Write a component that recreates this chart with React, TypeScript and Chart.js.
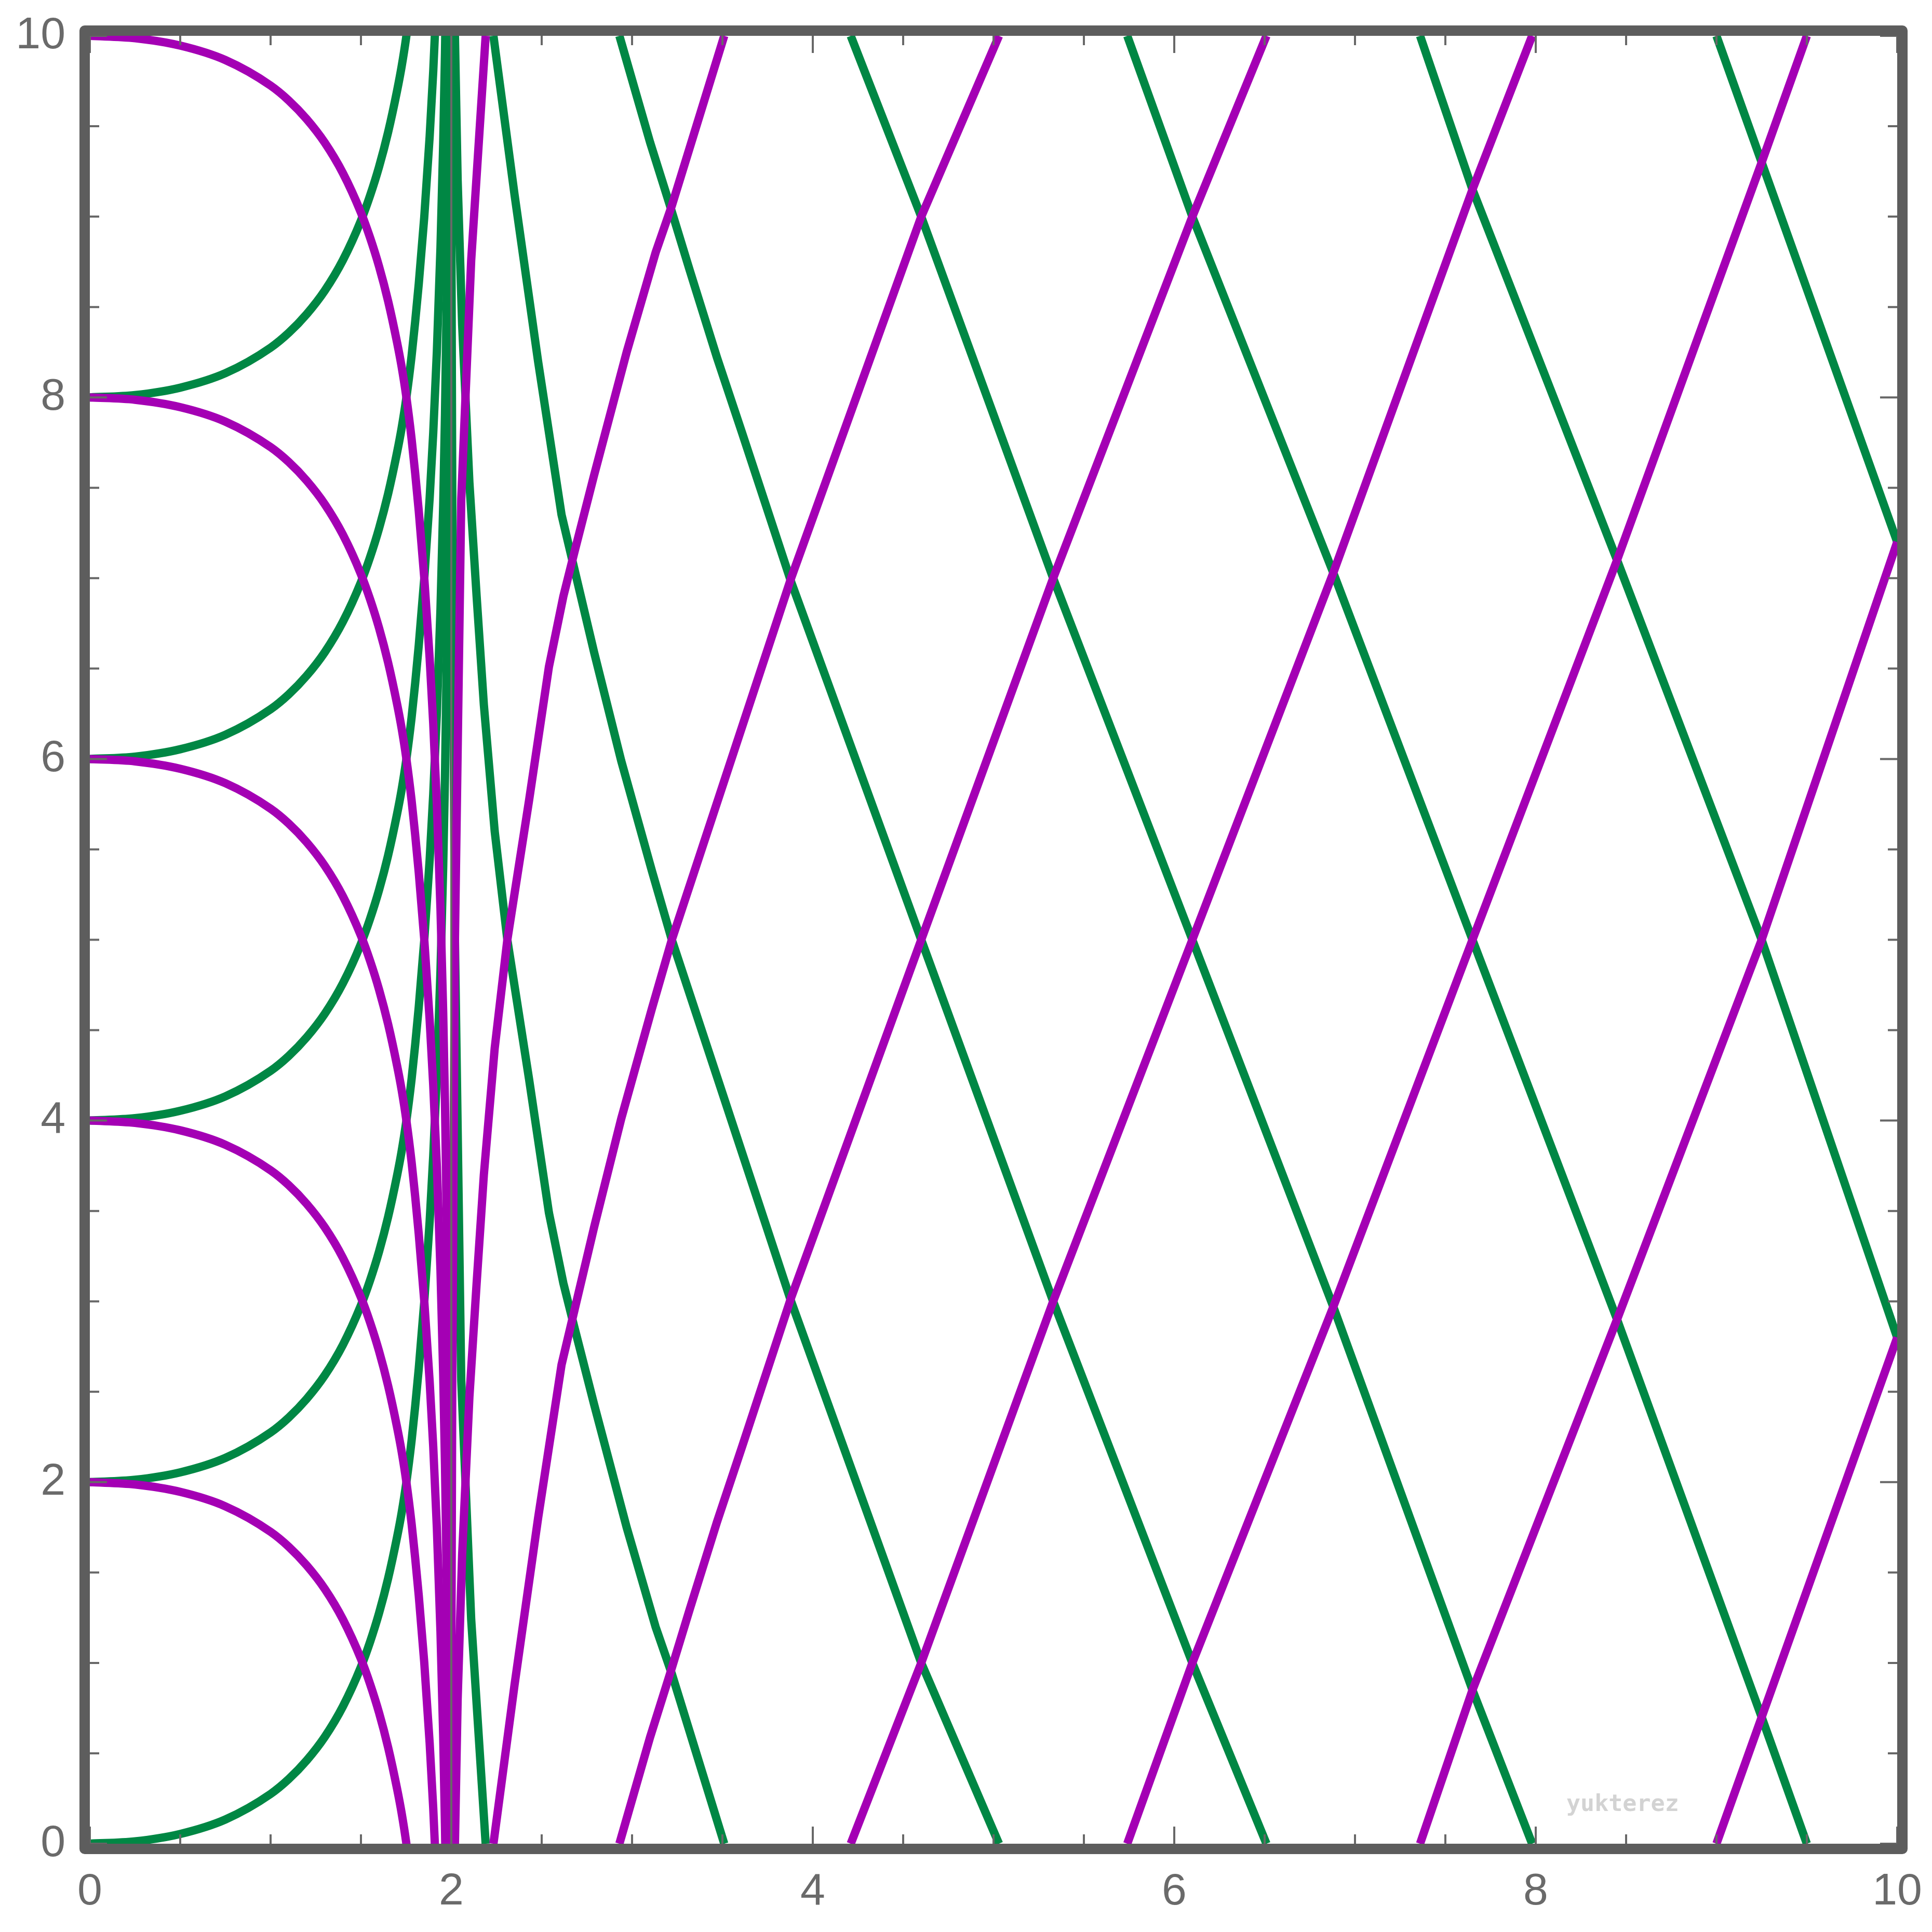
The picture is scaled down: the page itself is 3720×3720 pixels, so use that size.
import React, { useEffect, useRef } from 'react';
import { Chart, registerables } from 'chart.js';

Chart.register(...registerables);

// ---- data ----
// shared x positions for the curves that start on the left edge
const leftX = [0, 0.25, 0.5, 0.75, 1.0, 1.1, 1.2, 1.3, 1.4, 1.5, 1.55, 1.6, 1.65, 1.7, 1.725, 1.75, 1.78, 1.8, 1.82, 1.85, 1.88, 1.9, 1.92, 1.94, 1.955, 1.965, 1.975, 1.983, 1.989, 1.994, 1.997];

// green curves rising from y = 0, 2, 4, 6, 8
const greenFrom0 = [0, 0.013, 0.054, 0.134, 0.275, 0.357, 0.461, 0.591, 0.759, 0.978, 1.115, 1.275, 1.466, 1.697, 1.83, 1.99, 2.228, 2.419, 2.63, 2.994, 3.441, 3.805, 4.252, 4.827, 5.401, 5.904, 6.578, 7.349, 8.22, 9.432, 10.82];
const greenFrom2 = [2, 2.013, 2.054, 2.134, 2.275, 2.357, 2.461, 2.591, 2.759, 2.978, 3.115, 3.275, 3.466, 3.697, 3.83, 3.99, 4.228, 4.419, 4.63, 4.994, 5.441, 5.805, 6.252, 6.827, 7.401, 7.904, 8.578, 9.349, 10.22];
const greenFrom4 = [4, 4.013, 4.054, 4.134, 4.275, 4.357, 4.461, 4.591, 4.759, 4.978, 5.115, 5.275, 5.466, 5.697, 5.83, 5.99, 6.228, 6.419, 6.63, 6.994, 7.441, 7.805, 8.252, 8.827, 9.401, 9.904, 10.578];
const greenFrom6 = [6, 6.013, 6.054, 6.134, 6.275, 6.357, 6.461, 6.591, 6.759, 6.978, 7.115, 7.275, 7.466, 7.697, 7.83, 7.99, 8.228, 8.419, 8.63, 8.994, 9.441, 9.805, 10.252];
const greenFrom8 = [8, 8.013, 8.054, 8.134, 8.275, 8.357, 8.461, 8.591, 8.759, 8.978, 9.115, 9.275, 9.466, 9.697, 9.83, 9.99, 10.228];

// magenta curves falling from y = 10, 8, 6, 4, 2
const magentaFrom10 = [10, 9.987, 9.946, 9.866, 9.725, 9.643, 9.539, 9.409, 9.241, 9.022, 8.885, 8.725, 8.534, 8.303, 8.17, 8.01, 7.772, 7.581, 7.37, 7.006, 6.559, 6.195, 5.748, 5.173, 4.599, 4.096, 3.422, 2.651, 1.78, 0.568, -0.82];
const magentaFrom8 = [8, 7.987, 7.946, 7.866, 7.725, 7.643, 7.539, 7.409, 7.241, 7.022, 6.885, 6.725, 6.534, 6.303, 6.17, 6.01, 5.772, 5.581, 5.37, 5.006, 4.559, 4.195, 3.748, 3.173, 2.599, 2.096, 1.422, 0.651, -0.22];
const magentaFrom6 = [6, 5.987, 5.946, 5.866, 5.725, 5.643, 5.539, 5.409, 5.241, 5.022, 4.885, 4.725, 4.534, 4.303, 4.17, 4.01, 3.772, 3.581, 3.37, 3.006, 2.559, 2.195, 1.748, 1.173, 0.599, 0.096, -0.578];
const magentaFrom4 = [4, 3.987, 3.946, 3.866, 3.725, 3.643, 3.539, 3.409, 3.241, 3.022, 2.885, 2.725, 2.534, 2.303, 2.17, 2.01, 1.772, 1.581, 1.37, 1.006, 0.559, 0.195, -0.252];
const magentaFrom2 = [2, 1.987, 1.946, 1.866, 1.725, 1.643, 1.539, 1.409, 1.241, 1.022, 0.885, 0.725, 0.534, 0.303, 0.17, 0.01, -0.228];

// green lines falling right of x = 2 ([x, y] pairs)
const greenOutA = [[1.997, 10], [2.005, 7.5], [2.02, 5.0], [2.055, 2.56], [2.11, 1.24], [2.19, 0]];
const greenOutB = [[2.02, 10], [2.035, 9.2], [2.06, 8.4], [2.10, 7.53], [2.14, 6.9], [2.18, 6.3], [2.24, 5.6], [2.31, 5.0], [2.43, 4.23], [2.54, 3.49], [2.62, 3.1], [2.68, 2.86], [2.79, 2.43], [2.97, 1.75], [3.13, 1.2], [3.22, 0.94], [3.51, 0]];
const greenOut0 = [[2.233, 10], [2.35, 9.12], [2.48, 8.2], [2.61, 7.35], [2.79, 6.59], [2.94, 5.99], [3.11, 5.38], [3.22, 5.0], [3.88, 3.0], [4.6, 1.0], [5.03, 0]];
const greenOut1 = [[2.93, 10], [3.10, 9.41], [3.21, 9.06], [3.32, 8.70], [3.47, 8.22], [3.61, 7.80], [3.88, 6.98], [4.6, 5.0], [5.33, 3.0], [6.1, 1.0], [6.51, 0]];
const greenOut2 = [[4.21, 10], [4.6, 9.0], [5.33, 7.0], [6.1, 5.0], [6.88, 2.97], [7.65, 0.85], [7.98, 0]];
const greenOut3 = [[5.74, 10], [6.1, 9.0], [6.88, 7.03], [7.65, 5.0], [8.45, 2.9], [9.25, 0.7], [9.5, 0]];
const greenOut4 = [[7.36, 10], [7.65, 9.15], [8.45, 7.1], [9.25, 5.0], [10, 2.8]];
const greenOut5 = [[9.0, 10], [9.25, 9.3], [10, 7.2]];

// magenta lines rising right of x = 2
const magentaOutA = [[1.997, 0], [2.005, 2.5], [2.02, 5.0], [2.055, 7.44], [2.11, 8.76], [2.19, 10]];
const magentaOutB = [[2.02, 0], [2.035, 0.8], [2.06, 1.6], [2.10, 2.47], [2.14, 3.1], [2.18, 3.7], [2.24, 4.4], [2.31, 5.0], [2.43, 5.77], [2.54, 6.51], [2.62, 6.9], [2.68, 7.14], [2.79, 7.57], [2.97, 8.25], [3.13, 8.8], [3.22, 9.06], [3.51, 10]];
const magentaOut0 = [[2.233, 0], [2.35, 0.88], [2.48, 1.8], [2.61, 2.65], [2.79, 3.41], [2.94, 4.01], [3.11, 4.62], [3.22, 5.0], [3.88, 7.0], [4.6, 9.0], [5.03, 10]];
const magentaOut1 = [[2.93, 0], [3.10, 0.59], [3.21, 0.94], [3.32, 1.30], [3.47, 1.78], [3.61, 2.20], [3.88, 3.02], [4.6, 5.0], [5.33, 7.0], [6.1, 9.0], [6.51, 10]];
const magentaOut2 = [[4.21, 0], [4.6, 1.0], [5.33, 3.0], [6.1, 5.0], [6.88, 7.03], [7.65, 9.15], [7.98, 10]];
const magentaOut3 = [[5.74, 0], [6.1, 1.0], [6.88, 2.97], [7.65, 5.0], [8.45, 7.1], [9.25, 9.3], [9.5, 10]];
const magentaOut4 = [[7.36, 0], [7.65, 0.85], [8.45, 2.9], [9.25, 5.0], [10, 7.2]];
const magentaOut5 = [[9.0, 0], [9.25, 0.7], [10, 2.8]];

// thin vertical reference line
const horizonX = 2;

// axes
const axisMin = 0;
const axisMax = 10;
const labelStep = 2;
const tickValues = [0, 0.5, 1, 1.5, 2, 2.5, 3, 3.5, 4, 4.5, 5, 5.5, 6, 6.5, 7, 7.5, 8, 8.5, 9, 9.5, 10];
const majorTicks = [0, 2, 4, 6, 8, 10];
const watermarkText = 'yukterez';

// ---- styling ----
const GREEN = '#008744';
const MAGENTA = '#a400b4';
const FRAME = '#5d5d5d';
const TICK = '#686868';
const LABEL = '#6a6a6a';
const LINE_W = 16;

const fromLeft = (ys: number[]) => ys.map((y, i) => ({ x: leftX[i], y }));
const fromPairs = (p: number[][]) => p.map(([x, y]) => ({ x, y }));

function lineDs(data: { x: number; y: number }[], color: string, order: number, smooth: boolean) {
  const ds: any = {
    data,
    showLine: true,
    borderColor: color,
    backgroundColor: color,
    borderWidth: LINE_W,
    pointRadius: 0,
    pointHoverRadius: 0,
    tension: 0,
    fill: false,
    borderCapStyle: 'butt',
    borderJoinStyle: 'round',
    order,
  };
  if (smooth) ds.cubicInterpolationMode = 'monotone';
  return ds;
}

const framePlugin = {
  id: 'frameTicks',
  afterDatasetsDraw(chart: any) {
    const { ctx, chartArea } = chart;
    const { left, top, right, bottom } = chartArea;
    const xs = chart.scales.x;
    const ys = chart.scales.y;
    ctx.save();
    ctx.strokeStyle = TICK;
    ctx.lineWidth = 4;
    ctx.lineCap = 'butt';
    for (const v of tickValues) {
      const len = majorTicks.includes(v) ? 33 : 18;
      const px = xs.getPixelForValue(v);
      const py = ys.getPixelForValue(v);
      ctx.beginPath();
      ctx.moveTo(px, bottom);
      ctx.lineTo(px, bottom - len);
      ctx.moveTo(px, top);
      ctx.lineTo(px, top + len);
      ctx.moveTo(left, py);
      ctx.lineTo(left + len, py);
      ctx.moveTo(right, py);
      ctx.lineTo(right - len, py);
      ctx.stroke();
    }
    ctx.strokeStyle = FRAME;
    ctx.lineWidth = 20;
    ctx.lineJoin = 'round';
    ctx.strokeRect(left - 10, top - 10, right - left + 20, bottom - top + 20);

    ctx.fillStyle = '#d3d3d3';
    ctx.font = 'bold 45px "DejaVu Sans Mono", monospace';
    ctx.textAlign = 'left';
    ctx.textBaseline = 'alphabetic';
    ctx.fillText(watermarkText, 3016, 3487);
    ctx.restore();
  },
};

const zeroPad = (s: any) => {
  s.paddingTop = 0;
  s.paddingBottom = 0;
  s.paddingLeft = 0;
  s.paddingRight = 0;
};

export default function App() {
  const ref = useRef<HTMLCanvasElement>(null);

  useEffect(() => {
    if (!ref.current) return;
    const datasets: any[] = [];
    [greenFrom0, greenFrom2, greenFrom4, greenFrom6, greenFrom8].forEach((ys) =>
      datasets.push(lineDs(fromLeft(ys), GREEN, 2, true))
    );
    [greenOutA, greenOutB, greenOut0, greenOut1, greenOut2, greenOut3, greenOut4, greenOut5].forEach((p) =>
      datasets.push(lineDs(fromPairs(p), GREEN, 2, false))
    );
    [magentaFrom10, magentaFrom8, magentaFrom6, magentaFrom4, magentaFrom2].forEach((ys) =>
      datasets.push(lineDs(fromLeft(ys), MAGENTA, 1, true))
    );
    [magentaOutA, magentaOutB, magentaOut0, magentaOut1, magentaOut2, magentaOut3, magentaOut4, magentaOut5].forEach((p) =>
      datasets.push(lineDs(fromPairs(p), MAGENTA, 1, false))
    );
    const hz = lineDs(
      [
        { x: horizonX, y: axisMin },
        { x: horizonX, y: axisMax },
      ],
      TICK,
      0,
      false
    );
    hz.borderWidth = 4;
    datasets.push(hz);

    const tickFont = { family: '"Liberation Sans", Arial, sans-serif', size: 86 };
    const chart = new Chart(ref.current, {
      type: 'scatter',
      data: { datasets },
      options: {
        animation: false,
        responsive: false,
        devicePixelRatio: 1,
        events: [],
        layout: { autoPadding: false, padding: { top: 69, right: 67, left: 0, bottom: 0 } },
        plugins: { legend: { display: false }, tooltip: { enabled: false } },
        scales: {
          x: {
            type: 'linear',
            min: axisMin,
            max: axisMax,
            ticks: { stepSize: labelStep, font: tickFont, color: LABEL, padding: 42, maxRotation: 0, autoSkip: false },
            grid: { display: false, drawTicks: false },
            border: { display: false },
            afterFit: (s: any) => {
              s.height = 170;
              zeroPad(s);
            },
          },
          y: {
            type: 'linear',
            min: axisMin,
            max: axisMax,
            ticks: { stepSize: labelStep, font: tickFont, color: LABEL, padding: 47, autoSkip: false },
            grid: { display: false, drawTicks: false },
            border: { display: false },
            afterFit: (s: any) => {
              s.width = 173;
              zeroPad(s);
            },
          },
        },
      } as any,
      plugins: [framePlugin],
    });
    return () => chart.destroy();
  }, []);

  return (
    <div style={{ position: 'absolute', left: 0, top: 0, width: 3720, height: 3720, background: '#ffffff' }}>
      <canvas ref={ref} width={3720} height={3720} style={{ display: 'block', width: 3720, height: 3720 }} />
    </div>
  );
}
